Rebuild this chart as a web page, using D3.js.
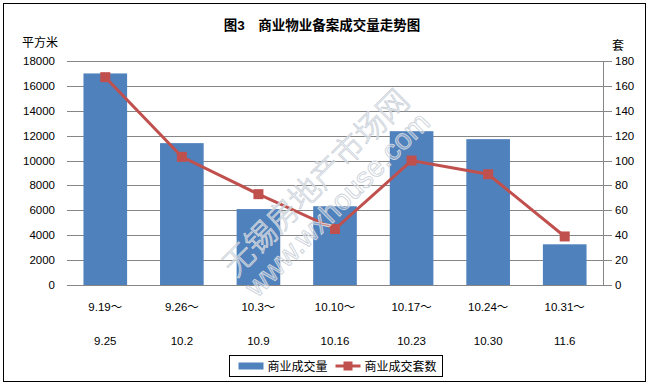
<!DOCTYPE html>
<html>
<head>
<meta charset="utf-8">
<script src="https://cdn.jsdelivr.net/npm/d3@7"></script>
<style>
  body { margin: 0; background: #fff; }
  text { font-family: "Liberation Sans", "Noto Sans CJK SC", sans-serif; }
</style>
</head>
<body>
<div id="chart"></div>
<script>
// chart data
const weeksTop = ["9.19～", "9.26～", "10.3～", "10.10～", "10.17～", "10.24～", "10.31～"];
const weeksBottom = ["9.25", "10.2", "10.9", "10.16", "10.23", "10.30", "11.6"];
const areaValues = [17000, 11400, 6100, 6330, 12360, 11720, 3270];
const countValues = [167, 103, 73, 45, 100, 89, 39];
const leftTicks = [0, 2000, 4000, 6000, 8000, 10000, 12000, 14000, 16000, 18000];
const rightTicks = [0, 20, 40, 60, 80, 100, 120, 140, 160, 180];

const W = 649, H = 386;
const margin = { top: 61, right: 46, bottom: 101, left: 67 },
    width = W - margin.left - margin.right,
    height = H - margin.top - margin.bottom;

const svg = d3.select("#chart").append("svg")
    .attr("width", W)
    .attr("height", H);

// outer frame
svg.append("rect")
    .attr("x", 3.5).attr("y", 3.5)
    .attr("width", W - 7).attr("height", H - 8)
    .attr("fill", "#fff").attr("stroke", "#000");

svg.append("text")
    .attr("x", 322).attr("y", 30)
    .attr("text-anchor", "middle")
    .attr("font-size", "13.5px").attr("font-weight", "bold")
    .attr("font-family", "'Noto Sans CJK SC', sans-serif")
    .text("图3　商业物业备案成交量走势图");

svg.append("text")
    .attr("x", 22).attr("y", 47)
    .attr("font-size", "12px")
    .attr("font-family", "'Noto Sans CJK SC', sans-serif")
    .text("平方米");

svg.append("text")
    .attr("x", 612).attr("y", 50)
    .attr("font-size", "12px")
    .attr("font-family", "'Noto Sans CJK SC', sans-serif")
    .text("套");

const g = svg.append("g")
    .attr("transform", `translate(${margin.left},${margin.top})`);

const x = d3.scaleBand()
    .domain(d3.range(weeksTop.length))
    .range([0, width])
    .paddingInner(0.43)
    .paddingOuter(0.215);

const yL = d3.scaleLinear().domain([0, 18000]).range([height, 0]);
const yR = d3.scaleLinear().domain([0, 180]).range([height, 0]);

// gridlines
g.selectAll(".grid")
    .data(leftTicks)
    .enter().append("line")
    .attr("x1", 0).attr("x2", width)
    .attr("y1", d => Math.round(yL(d)) + 0.5)
    .attr("y2", d => Math.round(yL(d)) + 0.5)
    .attr("stroke", "#868686");

// left labels
g.selectAll(".ltick")
    .data(leftTicks)
    .enter().append("text")
    .attr("x", -12)
    .attr("y", d => yL(d) + 4)
    .attr("text-anchor", "end")
    .attr("font-size", "11.5px")
    .text(d => d);

// bars
g.selectAll(".bar")
    .data(areaValues)
    .enter().append("rect")
    .attr("x", (d, i) => x(i))
    .attr("y", d => yL(d))
    .attr("width", x.bandwidth())
    .attr("height", d => height - yL(d))
    .attr("fill", "#4F81BD");

// watermark
const wm = svg.append("g")
    .attr("transform", "translate(316,183) rotate(-45)")
    .attr("fill", "#fff")
    .attr("fill-opacity", 0.3)
    .attr("stroke", "#cdd3db")
    .attr("stroke-width", 0.9)
    .attr("dominant-baseline", "central")
    .attr("text-anchor", "middle");
wm.append("text")
    .attr("x", 0).attr("y", 0)
    .attr("font-size", "31px")
    .attr("font-family", "'Noto Sans CJK SC', sans-serif")
    .attr("font-weight", 300)
    .text("无锡房地产市场网");
wm.append("text")
    .attr("x", 0).attr("y", 30)
    .attr("font-size", "29px")
    .text("www.wxhouse.com");

// right axis
g.append("line")
    .attr("x1", width + 0.5).attr("x2", width + 0.5)
    .attr("y1", 0).attr("y2", height)
    .attr("stroke", "#868686");
g.selectAll(".rtickline")
    .data(rightTicks)
    .enter().append("line")
    .attr("x1", width).attr("x2", width + 9)
    .attr("y1", d => Math.round(yR(d)) + 0.5)
    .attr("y2", d => Math.round(yR(d)) + 0.5)
    .attr("stroke", "#868686");
g.selectAll(".rtick")
    .data(rightTicks)
    .enter().append("text")
    .attr("x", width + 12)
    .attr("y", d => yR(d) + 4)
    .attr("font-size", "11.5px")
    .text(d => d);

// line series
const cx = i => x(i) + x.bandwidth() / 2;
g.append("path")
    .datum(countValues)
    .attr("fill", "none")
    .attr("stroke", "#C0504D")
    .attr("stroke-width", 3)
    .attr("d", d3.line().x((d, i) => cx(i)).y(d => yR(d)));
g.selectAll(".marker")
    .data(countValues)
    .enter().append("rect")
    .attr("x", (d, i) => cx(i) - 5)
    .attr("y", d => yR(d) - 5)
    .attr("width", 10).attr("height", 10)
    .attr("fill", "#C0504D");

// category labels, two rows
g.selectAll(".cat1")
    .data(weeksTop)
    .enter().append("text")
    .attr("x", (d, i) => cx(i))
    .attr("y", height + 26)
    .attr("text-anchor", "middle")
    .attr("font-size", "11.5px")
    .text(d => d);
g.selectAll(".cat2")
    .data(weeksBottom)
    .enter().append("text")
    .attr("x", (d, i) => cx(i))
    .attr("y", height + 60)
    .attr("text-anchor", "middle")
    .attr("font-size", "11.5px")
    .text(d => d);

// legend
const lg = svg.append("g").attr("transform", "translate(229.5,355.5)");
lg.append("rect")
    .attr("width", 213).attr("height", 21)
    .attr("fill", "#fff").attr("stroke", "#000");
lg.append("rect")
    .attr("x", 9).attr("y", 7).attr("width", 25).attr("height", 7)
    .attr("fill", "#4F81BD");
lg.append("text")
    .attr("x", 38).attr("y", 15)
    .attr("font-size", "12px")
    .attr("font-family", "'Noto Sans CJK SC', sans-serif")
    .text("商业成交量");
lg.append("line")
    .attr("x1", 106).attr("x2", 131).attr("y1", 10.5).attr("y2", 10.5)
    .attr("stroke", "#C0504D").attr("stroke-width", 3);
lg.append("rect")
    .attr("x", 114).attr("y", 6).attr("width", 9).attr("height", 9)
    .attr("fill", "#C0504D");
lg.append("text")
    .attr("x", 135).attr("y", 15)
    .attr("font-size", "12px")
    .attr("font-family", "'Noto Sans CJK SC', sans-serif")
    .text("商业成交套数");
</script>
</body>
</html>
